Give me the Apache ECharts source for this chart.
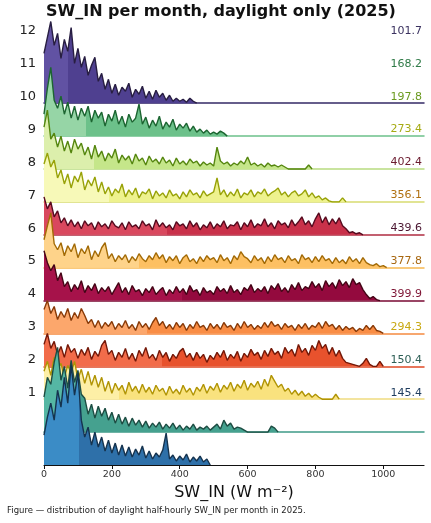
<!DOCTYPE html>
<html>
<head>
<meta charset="utf-8">
<title>SW_IN per month</title>
<script src="https://cdn.jsdelivr.net/npm/echarts@6/dist/echarts.min.js"></script>
<style>
    html, body { margin: 0; padding: 0; background: #fff; }
    #echarts-swin-ridges { width: 431px; height: 523px; }
</style>
</head>
<body>
<div id="echarts-swin-ridges"></div>
<script>
/* Histogram bins: 10 W m-2 wide, starting at 0. Heights (relative units). */
var bin_width = 10;
var x_max = 1120;
var x_ticks = [0, 200, 400, 600, 800, 1000];

var months = ['1', '2', '3', '4', '5', '6', '7', '8', '9', '10', '11', '12'];
var mean_sw_in = [145.4, 150.4, 294.3, 399.9, 377.8, 439.6, 356.1, 402.4, 273.4, 197.8, 168.2, 101.7];
/* where the fill turns darker (roughly the median) */
var fill_split = [106, 112, 225, 351, 307, 410, 283, 366, 195, 150, 125, 71];

var density_01 = [30, 48, 62, 45, 75, 58, 88, 62, 100, 70, 92, 45, 28, 38, 20, 33, 18, 28, 14, 25,
    12, 22, 10, 20, 9, 18, 8, 16, 10, 19, 7, 14, 6, 12, 8, 15, 32, 6, 10, 4,
    9, 5, 11, 3, 8, 4, 9, 3, 6, 0];
var density_02 = [35, 55, 48, 70, 85, 52, 66, 44, 72, 50, 62, 38, 34, 18, 28, 14, 26, 16, 24, 12,
    20, 9, 18, 8, 15, 6, 14, 7, 12, 5, 11, 4, 9, 5, 10, 3, 8, 4, 9, 3,
    7, 2, 6, 3, 8, 2, 5, 3, 6, 2, 5, 8, 3, 12, 6, 9, 3, 5, 4, 2,
    0, 0, 0, 0, 0, 0, 0, 6, 4, 0];
var density_03 = [28, 38, 24, 42, 30, 36, 22, 34, 26, 38, 20, 30, 16, 28, 14, 24, 12, 22, 8, 18,
    6, 16, 9, 14, 5, 17, 8, 13, 6, 15, 7, 12, 5, 14, 8, 11, 4, 13, 6, 10,
    5, 14, 7, 11, 4, 12, 8, 15, 6, 13, 9, 16, 7, 14, 10, 17, 8, 15, 11, 19,
    9, 16, 12, 18, 10, 20, 13, 24, 18, 12, 15, 8, 11, 5, 9, 4, 8, 3, 6, 2,
    5, 2, 0, 0, 0, 0, 5, 0];
var density_04 = [22, 33, 18, 25, 12, 20, 9, 22, 14, 18, 8, 17, 11, 19, 7, 15, 10, 21, 26, 12,
    16, 6, 14, 9, 18, 7, 13, 5, 16, 10, 19, 8, 12, 6, 16, 9, 14, 5, 12, 8,
    15, 18, 9, 13, 6, 14, 8, 12, 4, 11, 7, 14, 9, 16, 6, 12, 8, 15, 5, 13,
    9, 17, 11, 14, 7, 16, 10, 18, 12, 15, 8, 19, 13, 17, 10, 22, 14, 18, 11, 21,
    16, 26, 18, 22, 12, 19, 10, 16, 8, 4, 3, 2, 1, 0, 3, 8, 2, 0, 0, 5,
    0];
var density_05 = [24, 33, 20, 27, 14, 22, 16, 25, 13, 21, 15, 25, 18, 10, 14, 6, 13, 5, 11, 7,
    12, 4, 10, 6, 13, 5, 9, 3, 12, 6, 10, 4, 11, 16, 8, 12, 5, 9, 4, 11,
    6, 10, 3, 9, 5, 12, 6, 8, 3, 10, 5, 9, 4, 11, 6, 8, 3, 10, 5, 12,
    6, 9, 4, 8, 5, 11, 6, 12, 7, 9, 4, 10, 6, 8, 3, 9, 5, 10, 4, 8,
    6, 11, 5, 12, 7, 9, 4, 8, 3, 7, 4, 6, 2, 5, 3, 8, 4, 8, 3, 2,
    0];
var density_06 = [50, 38, 30, 36, 20, 28, 14, 19, 9, 16, 11, 20, 8, 15, 10, 17, 7, 13, 9, 14,
    6, 12, 18, 8, 13, 6, 15, 9, 11, 5, 12, 8, 14, 6, 10, 13, 5, 11, 7, 14,
    8, 12, 6, 15, 9, 11, 5, 13, 8, 10, 6, 14, 9, 12, 7, 15, 8, 11, 6, 13,
    10, 16, 8, 12, 9, 14, 7, 15, 11, 17, 9, 13, 8, 16, 11, 18, 10, 14, 12, 19,
    13, 17, 10, 20, 14, 18, 12, 21, 15, 19, 13, 22, 16, 18, 11, 6, 2, 4, 1, 0];
var density_07 = [28, 42, 55, 24, 18, 25, 12, 22, 16, 24, 10, 19, 14, 22, 8, 17, 11, 20, 25, 9,
    14, 6, 12, 8, 13, 5, 11, 7, 14, 9, 6, 12, 8, 15, 9, 13, 5, 11, 7, 12,
    4, 10, 13, 6, 9, 4, 11, 6, 12, 8, 10, 5, 13, 7, 10, 4, 12, 8, 16, 11,
    9, 5, 12, 7, 10, 4, 11, 6, 13, 8, 10, 5, 12, 7, 9, 4, 13, 8, 10, 5,
    11, 6, 12, 7, 9, 4, 10, 5, 8, 4, 11, 6, 9, 4, 10, 5, 3, 2, 4, 1,
    2, 0];
var density_08 = [38, 26, 33, 18, 24, 12, 17, 9, 15, 8, 13, 6, 14, 9, 12, 5, 13, 8, 11, 6,
    14, 9, 7, 12, 5, 13, 8, 10, 6, 14, 9, 11, 5, 15, 8, 12, 7, 10, 5, 13,
    9, 11, 6, 14, 8, 12, 5, 10, 7, 13, 6, 11, 8, 14, 6, 10, 9, 13, 5, 12,
    8, 15, 7, 11, 9, 16, 8, 12, 6, 14, 10, 12, 7, 15, 9, 13, 18, 10, 14, 8,
    16, 22, 12, 18, 10, 16, 11, 17, 9, 6, 2, 3, 1, 2, 0];
var density_09 = [38, 49, 35, 42, 24, 32, 18, 28, 14, 26, 20, 30, 12, 22, 16, 25, 10, 20, 8, 15,
    6, 13, 9, 18, 5, 12, 7, 14, 4, 10, 8, 13, 3, 11, 6, 9, 4, 12, 6, 8,
    3, 10, 5, 12, 7, 9, 4, 11, 6, 8, 10, 24, 7, 12, 5, 10, 6, 13, 4, 9,
    7, 12, 5, 10, 8, 13, 6, 9, 11, 14, 7, 10, 5, 9, 11, 6, 8, 12, 5, 9,
    4, 6, 2, 4, 1, 0, 0, 0, 4, 0];
var density_10 = [42, 59, 30, 36, 22, 33, 18, 28, 16, 30, 20, 26, 14, 22, 10, 24, 12, 18, 8, 16,
    11, 20, 6, 14, 9, 13, 5, 15, 8, 11, 4, 13, 7, 10, 5, 12, 6, 9, 3, 11,
    5, 8, 4, 10, 6, 8, 3, 7, 4, 6, 3, 22, 8, 5, 7, 3, 6, 4, 8, 5,
    12, 4, 6, 3, 5, 2, 6, 3, 4, 2, 4, 2, 0, 0, 0, 0, 0, 0, 4, 0];
var density_11 = [22, 48, 69, 36, 28, 40, 22, 34, 18, 30, 16, 28, 20, 30, 14, 26, 18, 24, 10, 22,
    15, 26, 12, 20, 9, 22, 14, 18, 32, 12, 19, 8, 16, 10, 20, 7, 14, 9, 17, 6,
    12, 8, 13, 5, 10, 4, 7, 3, 6, 2, 4, 2, 5, 3, 0];
var density_12 = [50, 66, 82, 58, 70, 45, 64, 52, 76, 40, 55, 36, 47, 28, 38, 46, 22, 30, 14, 24,
    10, 19, 8, 16, 12, 20, 6, 14, 9, 17, 5, 12, 4, 13, 6, 10, 3, 8, 2, 5,
    2, 4, 1, 5, 2, 0];

var densities = [density_01, density_02, density_03, density_04, density_05, density_06,
    density_07, density_08, density_09, density_10, density_11, density_12];

var fill_light = ['#3b8cc6', '#55b7a4', '#fdefa6', '#f26c4a', '#fca76c', '#a6124a',
    '#fed38a', '#d9485e', '#f7f9b8', '#dcefac', '#96d5a6', '#6152a3'];
var fill_dark = ['#2e70a9', '#45a18f', '#f9e27e', '#e8522d', '#f98d45', '#940a3e',
    '#fdc062', '#c9314a', '#eef28e', '#c5e68a', '#6cc18a', '#4f4090'];
var line_colors = ['#15334f', '#1d4d43', '#b09405', '#741808', '#883a08', '#440516',
    '#a26a06', '#560b1f', '#98a208', '#55860f', '#1c6531', '#281e42'];
var base_colors = ['#111111', '#3f9a88', '#f0dc80', '#e04a26', '#f58a40', '#7a0a33',
    '#f7b850', '#b02c42', '#d8dc70', '#b8dc80', '#6cc18a', '#342a66'];
var mean_colors = ['#1f3d5e', '#2e5f56', '#c8a812', '#7e1434', '#a86812', '#4a1530',
    '#b07010', '#6a1a2e', '#a6ab14', '#6b9a20', '#2f7a47', '#3b3260'];
</script>
<script>
var font = 'DejaVu Sans';
var ridge_scale = 1 / 33;      // density units -> ridge heights
var label_lift = 2.2;          // month labels sit above their baseline
var y_top = 13.5;              // height of the whole panel in ridge units
var px_per_unit = 444 / y_top; // plot area is 444 px tall

var echarts_ridges = echarts.init(document.getElementById('echarts-swin-ridges'));

/* One grid per month, all sharing the same top; each grid's bottom is that month's baseline. */
var grids = [], x_axes = [], y_axes = [], series = [];
var label_values = [];
var rich = {};

months.forEach(function (month, i) {
    label_values.push(i + label_lift);
    rich['c' + i] = { color: mean_colors[i], fontSize: 11, fontFamily: font };
});

function month_index(value) {
    return Math.round(value - label_lift);
}

months.forEach(function (month, i) {
    var ridge = densities[i].map(function (d, j) {
        return [j * bin_width, d * ridge_scale];
    });
    var s = densities[i].length * bin_width / x_max;
    var split = fill_split[i] / (densities[i].length * bin_width);
    var first = i === 0;

    grids.push({ left: 44, right: 7, top: 21, bottom: 58 + i * px_per_unit });
    x_axes.push({
        type: 'value', gridIndex: i, min: 0, max: x_max,
        name: first ? 'SW_IN (W m⁻²)' : '',
        nameLocation: 'middle',
        nameGap: 20,
        nameTextStyle: { fontFamily: font, fontSize: 16, color: '#111' },
        axisLine: { show: true, lineStyle: { color: base_colors[i], width: first ? 1.2 : 1.5 } },
        axisTick: { show: first, length: 4, customValues: x_ticks, lineStyle: { color: '#111' } },
        axisLabel: {
            show: first,
            customValues: x_ticks, fontFamily: font, fontSize: 9.5, color: '#333', margin: 5,
            formatter: function (v) { return String(v); }
        },
        splitLine: { show: false }
    });
    y_axes.push({
        type: 'value', gridIndex: i, min: 0, max: y_top - i, position: 'left', show: first,
        axisLine: { show: false },
        axisTick: { show: false },
        splitLine: { show: false },
        axisLabel: {
            customValues: label_values,
            fontFamily: font, fontSize: 13, color: '#222', margin: 8,
            formatter: function (v) { return months[month_index(v)]; }
        }
    });
    series.push({
        type: 'line', name: month,
        xAxisIndex: i, yAxisIndex: i,
        data: ridge, symbol: 'none', clip: false,
        z: 2 + (12 - i),
        lineStyle: { color: line_colors[i], width: 1.4 },
        areaStyle: {
            opacity: 1,
            origin: 'start',
            color: new echarts.graphic.LinearGradient(0, 0, 1, 0, [
                { offset: 0, color: fill_light[i] },
                { offset: split, color: fill_light[i] },
                { offset: split, color: fill_dark[i] },
                { offset: 1, color: fill_dark[i] }
            ])
        }
    });
});

/* Mean values on the right, on the bottom grid. */
y_axes.push({
    type: 'value', gridIndex: 0, min: 0, max: y_top, position: 'right',
    axisLine: { show: false },
    axisTick: { show: false },
    splitLine: { show: false },
    axisLabel: {
        customValues: label_values,
        inside: true, margin: 2,
        rich: rich,
        formatter: function (v) {
            var i = month_index(v);
            return '{c' + i + '|' + mean_sw_in[i].toFixed(1) + '}';
        }
    }
});

var option = {
    animation: false,
    title: [
        {
            text: 'SW_IN per month, daylight only (2025)',
            left: 46, top: 4, padding: 0,
            textStyle: { fontFamily: font, fontSize: 16, fontWeight: 'bold', color: '#111' }
        },
        {
            text: 'Figure — distribution of daylight half-hourly SW_IN per month in 2025.',
            left: 7, top: 506, padding: 0,
            textStyle: { fontFamily: font, fontSize: 8.5, fontWeight: 'normal', color: '#222' }
        }
    ],
    grid: grids,
    xAxis: x_axes,
    yAxis: y_axes,
    series: series
};
echarts_ridges.setOption(option);

/* Responsiveness. */
window.addEventListener('resize', function () {
    echarts_ridges.resize();
});
</script>
</body>
</html>
